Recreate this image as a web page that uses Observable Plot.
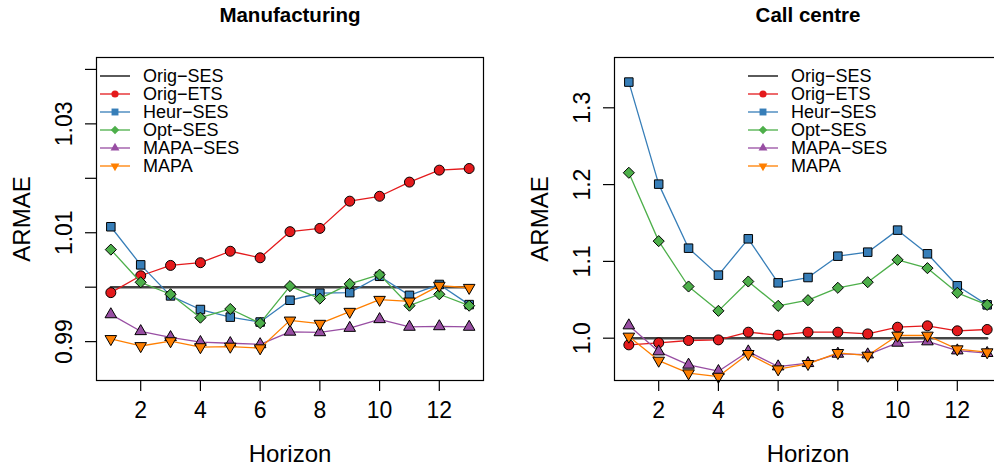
<!DOCTYPE html>
<html><head><meta charset="utf-8">
<script src="https://cdn.jsdelivr.net/npm/d3@7"></script>
<script src="https://cdn.jsdelivr.net/npm/@observablehq/plot@0.6"></script>
<style>
html,body{margin:0;padding:0;background:#fff;}
#wrap{position:relative;width:994px;height:467px;overflow:hidden;background:#fff;}
#wrap svg{position:absolute;top:0;}
</style></head><body><div id="wrap"></div>
<script>
// ---------- data ----------
const horizon = [1, 2, 3, 4, 5, 6, 7, 8, 9, 10, 11, 12, 13];
const seriesNames = ["Orig−SES", "Orig−ETS", "Heur−SES", "Opt−SES", "MAPA−SES", "MAPA"];
const xTicks = [2, 4, 6, 8, 10, 12];

// Manufacturing
const mOrigSES = [1, 1, 1, 1, 1, 1, 1, 1, 1, 1, 1, 1, 1];
const mOrigETS = [0.9990, 1.0021, 1.0040, 1.0045, 1.0066, 1.0054, 1.0102, 1.0108, 1.0158, 1.0167, 1.0193, 1.0215, 1.0218];
const mHeurSES = [1.0111, 1.0041, 0.9984, 0.9959, 0.9945, 0.9936, 0.9976, 0.9989, 0.9990, 1.0020, 0.9985, 1.0005, 0.9968];
const mOptSES  = [1.0069, 1.0009, 0.9987, 0.9944, 0.9960, 0.9934, 1.0002, 0.9979, 1.0006, 1.0023, 0.9966, 0.9987, 0.9966];
const mMapaSES = [0.9950, 0.9919, 0.9908, 0.9899, 0.9897, 0.9895, 0.9918, 0.9917, 0.9925, 0.9941, 0.9927, 0.9928, 0.9927];
const mMapa    = [0.9905, 0.9892, 0.9901, 0.9890, 0.9891, 0.9888, 0.9939, 0.9933, 0.9955, 0.9977, 0.9974, 1.0003, 0.9999];
const mYTicks  = [0.99, 1.00, 1.01, 1.02, 1.03, 1.04];
const mYLabels = ["0.99", "1.01", "1.03"];

// Call centre
const cOrigSES = [1, 1, 1, 1, 1, 1, 1, 1, 1, 1, 1, 1, 1];
const cOrigETS = [0.9913, 0.9939, 0.9970, 0.9978, 1.0078, 1.0039, 1.0078, 1.0078, 1.0056, 1.0143, 1.0161, 1.0096, 1.0113];
const cHeurSES = [1.3335, 1.2006, 1.1172, 1.0821, 1.1294, 1.0721, 1.0790, 1.1068, 1.1120, 1.1407, 1.1099, 1.0682, 1.0434];
const cOptSES  = [1.2154, 1.1264, 1.0673, 1.0356, 1.0738, 1.0421, 1.0495, 1.0656, 1.0729, 1.1020, 1.0912, 1.0591, 1.0434];
const cMapaSES = [1.0165, 0.9826, 0.9653, 0.9570, 0.9826, 0.9631, 0.9674, 0.9796, 0.9787, 0.9939, 0.9957, 0.9839, 0.9805];
const cMapa    = [1.0022, 0.9709, 0.9544, 0.9500, 0.9796, 0.9596, 0.9666, 0.9809, 0.9774, 1.0035, 1.0035, 0.9857, 0.9818];
const cYTicks  = [1.0, 1.1, 1.2, 1.3];
const cYLabels = ["1.0", "1.1", "1.2", "1.3"];

// ---------- styles ----------
const FONT = "'Liberation Sans', Arial, Helvetica, sans-serif";
const colors = ["#333333", "#E41A1C", "#377EB8", "#4DAF4A", "#984EA3", "#FF7F00"];
const triUp = {draw(ctx, size) {
  const a = Math.sqrt(size * 4 / Math.sqrt(3)), h = a * Math.sqrt(3) / 2;
  ctx.moveTo(0, -2 * h / 3); ctx.lineTo(a / 2, h / 3); ctx.lineTo(-a / 2, h / 3); ctx.closePath();
}};
const triDown = {draw(ctx, size) {
  const a = Math.sqrt(size * 4 / Math.sqrt(3)), h = a * Math.sqrt(3) / 2;
  ctx.moveTo(0, 2 * h / 3); ctx.lineTo(a / 2, -h / 3); ctx.lineTo(-a / 2, -h / 3); ctx.closePath();
}};
const symbols = [null, "circle", "square", "diamond2", triUp, triDown];
const symR = [0, 5.0, 4.8, 5.0, 4.3, 4.3];
const legSymR = [0, 3.6, 3.9, 3.8, 3.3, 3.3];
const d3Sym = [null, d3.symbolCircle, d3.symbolSquare, d3.symbolDiamond2, triUp, triDown];

function panel({title, values, yDomain, yTicks, yLabels, marginLeft, width, legendDx}) {
  const mT = 57, mB = 87, mR = 14;
  const marks = [];
  values.forEach((vals, s) => {
    if (s === 0) {
      marks.push(Plot.line(vals, {x: (d, i) => horizon[i], y: d => d, stroke: "#444", strokeWidth: 2.4}));
    } else {
      marks.push(Plot.line(vals, {x: (d, i) => horizon[i], y: d => d, stroke: colors[s], strokeWidth: 1.3}));
      marks.push(Plot.dot(vals, {x: (d, i) => horizon[i], y: d => d, symbol: symbols[s], r: symR[s],
        fill: colors[s], stroke: "black", strokeWidth: 1}));
    }
  });
  marks.push(Plot.frame({stroke: "black", strokeWidth: 1.2}));
  marks.push(Plot.axisX(xTicks, {tickSize: 11, tickPadding: 10, fontSize: 23, label: null, strokeWidth: 1.2}));
  marks.push(Plot.axisY(yTicks, {tickSize: 11, tickFormat: () => "", label: null, strokeWidth: 1.2}));
  marks.push(Plot.text(yLabels, {y: d => +d, text: d => d, frameAnchor: "left", dx: -24.5, rotate: -90,
    lineAnchor: "bottom", textAnchor: "middle", fontSize: 23}));
  marks.push(Plot.text(["ARMAE"], {text: d => d, frameAnchor: "left", dx: -67, rotate: -90,
    lineAnchor: "bottom", textAnchor: "middle", fontSize: 24}));
  marks.push(Plot.text(["Horizon"], {text: d => d, frameAnchor: "bottom", dy: 81, lineAnchor: "bottom", fontSize: 24}));
  marks.push(Plot.text([title], {text: d => d, frameAnchor: "top", dy: -35.5, lineAnchor: "bottom",
    fontSize: 20.5, fontWeight: "bold"}));

  const svg = Plot.plot({
    width, height: 467, marginLeft, marginRight: mR, marginTop: mT, marginBottom: mB,
    x: {domain: [0.52, 13.48]},
    y: {domain: yDomain},
    style: {fontFamily: FONT, fontSize: "23px", background: "white", overflow: "visible"},
    marks
  });

  // legend
  const g = d3.select(svg).append("g").attr("font-family", FONT).attr("font-size", 18)
    .attr("text-anchor", "start");
  seriesNames.forEach((name, s) => {
    const y = mT + 19 + 18 * s;
    const x0 = marginLeft + legendDx;
    g.append("line").attr("x1", x0 + 4).attr("x2", x0 + 34).attr("y1", y).attr("y2", y)
      .attr("stroke", s === 0 ? "black" : colors[s]).attr("stroke-width", 1.3);
    if (s > 0) {
      g.append("path").attr("transform", `translate(${x0 + 19},${y})`)
        .attr("d", d3.symbol(d3Sym[s], Math.PI * legSymR[s] * legSymR[s])())
        .attr("fill", colors[s]);
    }
    g.append("text").attr("x", x0 + 47).attr("y", y).attr("dy", "0.32em")
      .attr("text-anchor", "start").attr("fill", "black").text(name);
  });
  return svg;
}

const wrap = document.getElementById("wrap");
const left = panel({title: "Manufacturing",
  values: [mOrigSES, mOrigETS, mHeurSES, mOptSES, mMapaSES, mMapa],
  yDomain: [0.98286, 1.04219], yTicks: mYTicks, yLabels: mYLabels,
  marginLeft: 96, width: 497, legendDx: 0});
left.style.left = "0px";
wrap.appendChild(left);

const right = panel({title: "Call centre",
  values: [cOrigSES, cOrigETS, cHeurSES, cOptSES, cMapaSES, cMapa],
  yDomain: [0.9449, 1.3655], yTicks: cYTicks, yLabels: cYLabels,
  marginLeft: 117, width: 518, legendDx: 130});
right.style.left = "497px";
wrap.appendChild(right);
</script></body></html>
